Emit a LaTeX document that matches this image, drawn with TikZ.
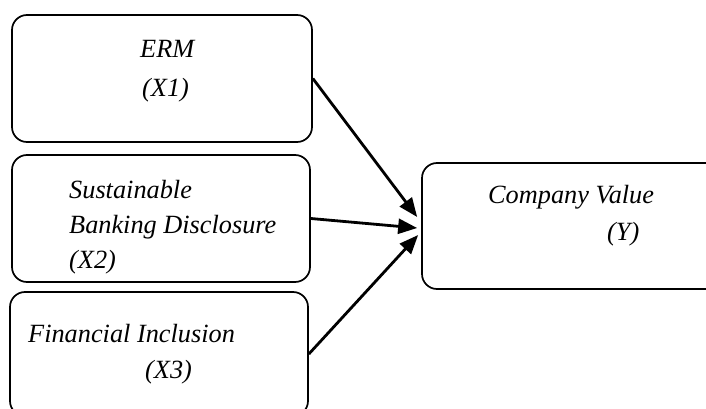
\documentclass[tikz,border=0pt]{standalone}
\usepackage{fontspec}
\setmainfont{Liberation Serif}
\usepackage{tikz}
\usetikzlibrary{arrows.meta,positioning}
\newcommand{\varfont}{\fontsize{26.3}{36}\selectfont\itshape}
\tikzset{
  every node/.style={font=\varfont},
  var/.style={draw=black,line width=1.7pt,rounded corners=15pt,inner sep=0pt,
              minimum width=#1,minimum height=127pt},
  var/.default=300pt,
  lbl/.style={anchor=base west,inner sep=0pt},
  link/.style={-{Triangle[length=19pt,width=15pt]},line width=2.8pt,draw=black},
}

\begin{document}
\begin{tikzpicture}[x=1pt,y=-1pt]
  \useasboundingbox (0,0) rectangle (706,409);
  \clip (0,0) rectangle (706,409);

  % ---------- independent variables ----------
  \node[var] (x1) at (162,78.5) {};
  \node[lbl] (x1a) at (140,58) {ERM};
  \node[lbl] (x1b) at (142,97) {(X1)};

  \node[var=298pt] (x2) at (161,218.5) {};
  \node[lbl] (x2a) at (69,198) {Sustainable};
  \node[lbl] (x2b) at (69,233) {Banking Disclosure};
  \node[lbl] (x2c) at (69,268) {(X2)};

  \node[var=298pt,minimum height=124pt] (x3) at (159,354) {};
  \node[lbl] (x3a) at (28,342) {Financial Inclusion};
  \node[lbl] (x3b) at (145,378) {(X3)};

  % ---------- dependent variable ----------
  \node[var=300pt,minimum height=126pt] (y) at (572,226) {};
  \node[lbl] (ya) at (488,203) {Company Value};
  \node[lbl] (yb) at (607,240) {(Y)};

  % ---------- links ----------
  \draw[link] (x1.east) -- ([shift={(-4,-9)}]y.west);
  \draw[link] (x2.east) -- ([shift={(-4,2)}]y.west);
  \draw[link] (x3.east) -- ([shift={(-3,9)}]y.west);
\end{tikzpicture}
\end{document}
